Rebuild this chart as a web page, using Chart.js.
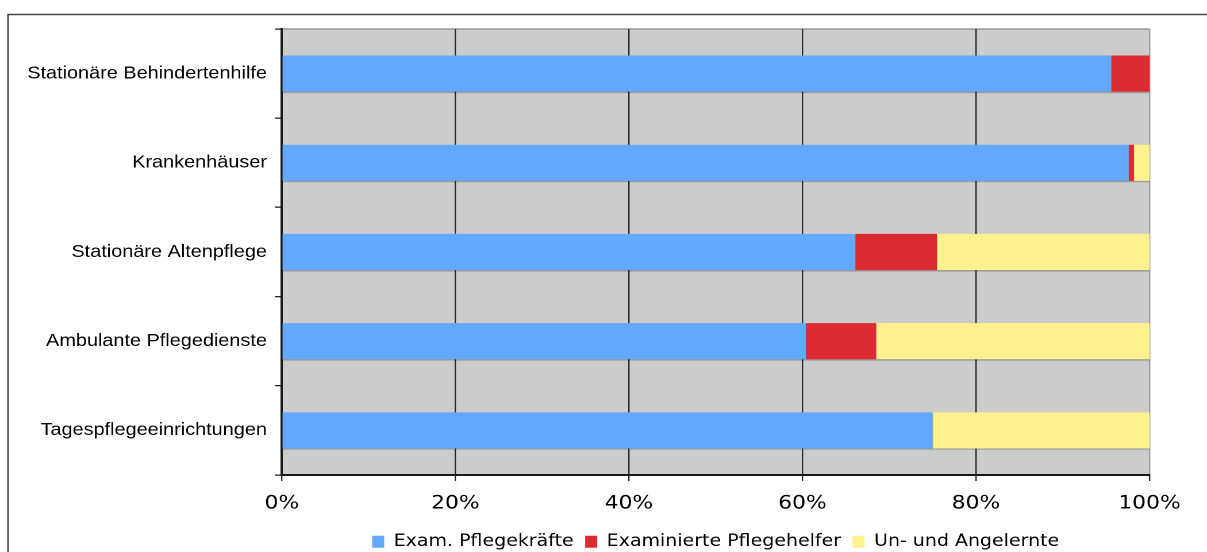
<!DOCTYPE html>
<html>
<head>
<meta charset="utf-8">
<script src="https://cdn.jsdelivr.net/npm/chart.js@4.4.1/dist/chart.umd.min.js"></script>
<style>
  html, body { margin: 0; padding: 0; background: #ffffff; overflow: hidden; }
  #wrap { width: 1050px; height: 552px; transform: scaleX(1.1495); transform-origin: 0 0; }
  #c { display: block; }
</style>
</head>
<body>
<div id="wrap"><canvas id="c" width="1050" height="552"></canvas></div>
<script>
// ---- data ----
const categories = [
  'Stationäre Behindertenhilfe',
  'Krankenhäuser',
  'Stationäre Altenpflege',
  'Ambulante Pflegedienste',
  'Tagespflegeeinrichtungen'
];
const seriesNames = ['Exam. Pflegekräfte', 'Examinierte Pflegehelfer', 'Un- und Angelernte'];
const examPflegekraefte = [95.6, 97.6, 66.1, 60.4, 75.0];
const examPflegehelfer  = [4.4, 0.6, 9.4, 8.1, 0];
const ungelernte        = [0, 1.8, 24.5, 31.5, 25.0];
const xTickValues = [0, 20, 40, 60, 80, 100];

const DPR = 2;

const bgPlugin = {
  id: 'bg',
  beforeDraw(chart) {
    const { ctx, chartArea: a } = chart;
    ctx.save();
    // outer frame (left + top)
    ctx.strokeStyle = '#444';
    ctx.lineWidth = 1.4;
    ctx.beginPath();
    ctx.moveTo(7, 560);
    ctx.lineTo(7, 14.5);
    ctx.lineTo(1060, 14.5);
    ctx.stroke();
    // plot background
    ctx.fillStyle = '#cccccc';
    ctx.fillRect(a.left, a.top, a.right - a.left, a.bottom - a.top);
    ctx.strokeStyle = '#999999';
    ctx.lineWidth = 1.5;
    ctx.beginPath();
    ctx.moveTo(a.left, a.top);
    ctx.lineTo(a.right, a.top);
    ctx.stroke();
    ctx.restore();
  },
  beforeDatasetsDraw(chart) {
    const ctx = chart.ctx;
    ctx.save();
    ctx.shadowColor = 'rgba(0,0,0,0.28)';
    ctx.shadowOffsetY = 1.2 * DPR;
    ctx.shadowBlur = 1 * DPR;
  },
  afterDatasetsDraw(chart) {
    chart.ctx.restore();
  }
};

new Chart(document.getElementById('c'), {
  type: 'bar',
  data: {
    labels: categories,
    datasets: [
      { label: seriesNames[0], data: examPflegekraefte, backgroundColor: '#62a8fd', borderWidth: 0 },
      { label: seriesNames[1], data: examPflegehelfer,  backgroundColor: '#dd2b31', borderWidth: 0 },
      { label: seriesNames[2], data: ungelernte,        backgroundColor: '#fff28e', borderWidth: 0 }
    ]
  },
  options: {
    indexAxis: 'y',
    responsive: false,
    maintainAspectRatio: false,
    animation: false,
    devicePixelRatio: DPR,
    barPercentage: 0.405,
    categoryPercentage: 1.0,
    layout: { padding: { top: 29, right: 50, bottom: -8, left: 0 } },
    plugins: {
      tooltip: { enabled: false },
      legend: {
        position: 'bottom',
        fullSize: false,
        align: 'center',
        labels: {
          boxWidth: 10.5,
          boxHeight: 12,
          padding: 10,
          color: '#000',
          font: { family: '"DejaVu Sans", Verdana, sans-serif', size: 16.5 }
        }
      }
    },
    scales: {
      x: {
        stacked: true,
        min: 0,
        max: 100,
        afterBuildTicks(scale) { scale.ticks = xTickValues.map(v => ({ value: v })); },
        afterFit(scale) { scale.height = 48.5; },
        ticks: {
          padding: 11,
          maxRotation: 0,
          color: '#000',
          font: { family: '"DejaVu Sans", Verdana, sans-serif', size: 19 },
          callback: v => v + '%'
        },
        grid: {
          color: ctx => (ctx.index === 5 ? '#999999' : '#2a2a2a'),
          tickColor: '#2a2a2a',
          lineWidth: 1.2,
          tickLength: 6
        },
        border: { display: true, color: '#1a1a1a', width: 2 }
      },
      y: {
        stacked: true,
        afterFit(scale) { scale.width = 245.2; },
        ticks: {
          padding: 7,
          color: '#000',
          font: { family: '"Liberation Sans", Arial, sans-serif', size: 17.3 }
        },
        grid: {
          offset: true,
          drawOnChartArea: false,
          color: '#222',
          lineWidth: 1.3,
          tickLength: 6
        },
        border: { display: true, color: '#1a1a1a', width: 2 }
      }
    }
  },
  plugins: [bgPlugin]
});
</script>
</body>
</html>
